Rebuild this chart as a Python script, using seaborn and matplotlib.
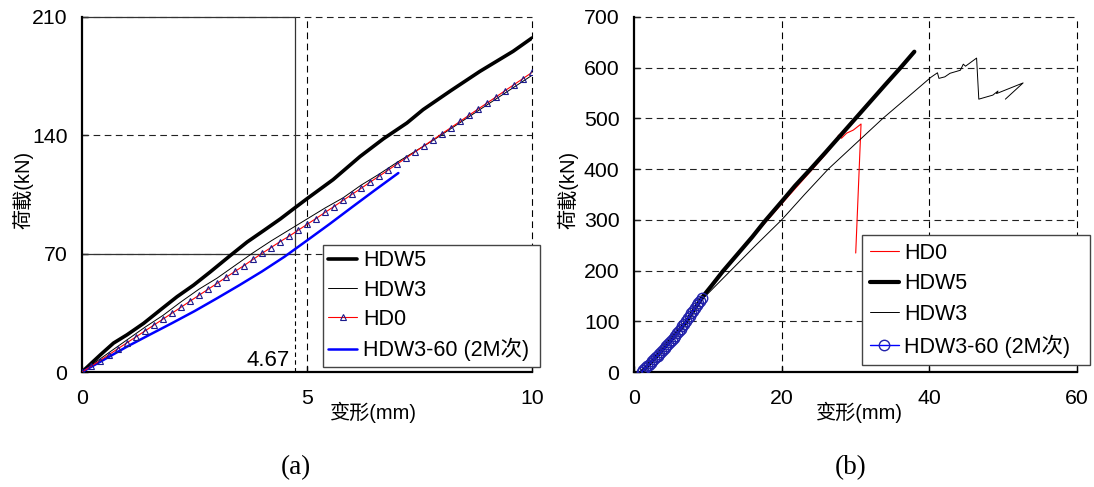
import matplotlib
matplotlib.use("Agg")
import matplotlib.pyplot as plt
import seaborn as sns
import pandas as pd

sns.set_theme(style="white")
plt.rcParams['font.family'] = ['Liberation Sans', 'Noto Sans CJK SC']
plt.rcParams['text.color'] = 'black'
plt.rcParams['axes.labelcolor'] = 'black'
plt.rcParams['xtick.color'] = 'black'
plt.rcParams['ytick.color'] = 'black'

# ---- panel (a): 0-10 mm ----
a_xticks = [0, 5, 10]
a_yticks = [0, 70, 140, 210]

a_hdw5_x = [0, 0.2, 0.41, 0.7, 1.0, 1.37, 1.74, 2.11, 2.48, 2.85, 3.30, 3.67, 4.04,
            4.41, 4.70, 5.0, 5.58, 6.18, 6.70, 7.22, 7.58, 8.2, 8.84, 9.58, 10.0]
a_hdw5_y = [0, 5, 10.2, 17.1, 22, 28.8, 36.7, 44.5, 51.4, 59.2, 69, 76.9, 83.7,
            90.6, 96.5, 102.5, 113.8, 127.5, 138, 147.3, 155.2, 166.5, 177.8, 189.7, 197.6]

a_hdw3_x = [0, 0.3, 0.6, 1.0, 1.4, 1.8, 2.2, 2.6, 3.0, 3.4, 3.8, 4.2, 4.6, 5.0,
            5.4, 5.8, 6.2, 6.6, 7.0, 7.4, 7.8, 8.2, 8.6, 9.0, 9.4, 9.8, 10.0]
a_hdw3_y = [0, 5.8, 11.5, 19.0, 26.5, 33.5, 41.5, 49.0, 55.5, 63.0, 70.5, 77.5, 84.0, 90.5,
            97.0, 103.0, 110.5, 117.0, 124.0, 130.5, 137.0, 144.0, 151.0, 158.0, 165.0, 172.0, 175.5]

a_hd0_x = [0, 0.2, 0.4, 0.6, 0.8, 1.0, 1.2, 1.4, 1.6, 1.8, 2.0, 2.2, 2.4, 2.6, 2.8,
           3.0, 3.2, 3.4, 3.6, 3.8, 4.0, 4.2, 4.4, 4.6, 4.8, 5.0, 5.2, 5.4, 5.6, 5.8,
           6.0, 6.2, 6.4, 6.6, 6.8, 7.0, 7.2, 7.4, 7.6, 7.8, 8.0, 8.2, 8.4, 8.6, 8.8,
           9.0, 9.2, 9.4, 9.6, 9.8, 10.0]
a_hd0_y = [0, 3.3, 6.8, 10.3, 13.8, 17.3, 20.8, 24.3, 27.8, 31.3, 34.8, 38.3, 41.9, 45.4, 48.9,
           52.4, 56.0, 59.5, 63.0, 66.6, 70.2, 73.6, 77.1, 80.3, 83.8, 87.3, 90.8, 94.4, 97.9, 101.5,
           105.1, 108.6, 112.3, 115.8, 119.4, 123.0, 126.6, 130.2, 133.8, 137.4, 141.0, 144.6, 148.2, 151.9, 155.5,
           159.1, 162.7, 166.4, 170.0, 173.6, 177.2]

a_hdw360_x = [0, 0.5, 1.0, 1.5, 2.0, 2.5, 3.0, 3.5, 4.0, 4.5, 5.0, 5.5, 6.0, 6.5, 7.03]
a_hdw360_y = [0, 7.5, 15.0, 22.0, 28.9, 36.0, 43.6, 51.4, 59.5, 68.2, 77.8, 87.5, 97.5, 107.4, 117.7]

ref_x = 4.73      # where the marker line sits in the picture
ref_y = 70
ref_label = "4.67"

# ---- panel (b): 0-60 mm ----
b_xticks = [0, 20, 40, 60]
b_yticks = [0, 100, 200, 300, 400, 500, 600, 700]

b_hd0_x = [1.04, 3.0, 5.0, 6.5, 8.0, 9.2, 12.0, 15.0, 18.0, 21.0, 24.0, 26.0, 27.2,
           27.7, 28.1, 28.8, 29.7, 30.75, 30.03]
b_hd0_y = [0, 32, 66, 90, 120, 145, 196, 247, 298, 348, 397, 430, 452,
           467, 461, 471, 477, 489, 234.6]

b_hdw5_x = [1.04, 3.0, 5.0, 7.0, 9.17, 10.5, 12.0, 14.0, 16.0, 17.7, 20.0, 21.8, 23.9,
            26.0, 28.0, 30.0, 32.0, 34.0, 36.1, 37.97]
b_hdw5_y = [0, 30, 63, 97, 146, 170, 198, 232, 266, 297, 336, 367, 400,
            434, 467, 500, 533, 566, 600, 631.6]

b_hdw3_x = [1.04, 5.0, 9.6, 13.1, 16.5, 20.0, 23.1, 26.3, 30.0, 33.7, 37.0, 40.2,
            41.1, 41.3, 42.1, 42.8, 44.2, 44.6, 44.9, 46.4, 46.7, 48.6, 49.3, 49.1, 52.7, 50.3]
b_hdw3_y = [0, 62, 148.5, 200, 250, 300, 350, 400, 450, 500, 541, 581,
            590, 579, 582, 589, 595, 607, 603, 619, 538, 546, 554, 549, 570, 538]

b_hdw360_x = [1.04, 1.28, 1.52, 1.76, 2.0, 2.24, 2.48, 2.72, 2.96, 3.2, 3.44, 3.68, 3.92,
              4.16, 4.4, 4.64, 4.88, 5.12, 5.36, 5.6, 5.84, 6.08, 6.32, 6.56, 6.8, 7.04,
              7.28, 7.52, 7.76, 8.0, 8.24, 8.48, 8.72, 8.96, 9.17]
b_hdw360_y = [0, 3.6, 7.3, 11.0, 14.6, 18.2, 21.8, 25.4, 29.0, 32.5, 36.0, 39.5, 43.0,
              46.8, 50.6, 54.5, 58.5, 62.6, 66.9, 71.4, 76.0, 80.7, 85.5, 90.4, 95.4, 100.5,
              105.6, 110.8, 116.0, 121.2, 126.3, 131.2, 136.0, 140.7, 145.3]

label_hd0 = "HD0"
label_hdw5 = "HDW5"
label_hdw3 = "HDW3"
label_hdw360 = "HDW3-60 (2M次)"

DASH = (0, (6, 4))


def draw(ax, x, y, label, **kw):
    df = pd.DataFrame({"x": x, "y": y})
    sns.lineplot(data=df, x="x", y="y", ax=ax, sort=False, estimator=None,
                 label=label, **kw)


def style_axes(ax, xticks, yticks, xlab_x, ylab_x):
    ax.set_xlim(xticks[0], xticks[-1])
    ax.set_ylim(yticks[0], yticks[-1])
    ax.set_xticks(xticks)
    ax.set_yticks(yticks)
    ax.tick_params(direction="in", length=4, width=1, labelsize=15.3,
                   bottom=True, left=True)
    ax.tick_params(axis="x", pad=12)
    ax.tick_params(axis="y", pad=10.5)
    for s in ["top", "right"]:
        ax.spines[s].set_visible(False)
    for s in ["left", "bottom"]:
        ax.spines[s].set_color("black")
        ax.spines[s].set_linewidth(1.6)
    for xv in xticks[1:]:
        ax.axvline(xv, color="black", lw=0.8, ls=DASH, clip_on=False, zorder=1)
    for yv in yticks[1:]:
        ax.axhline(yv, color="#222222", lw=0.8, ls=DASH, clip_on=False, zorder=1)
    ax.set_xlabel("")
    ax.set_ylabel("")
    ax.text(xlab_x, -0.115, "变形(mm)", transform=ax.transAxes, ha="center",
            va="center", fontsize=14.5)
    ax.text(ylab_x, 0.513, "荷載(kN)", transform=ax.transAxes, rotation=90,
            ha="center", va="center", fontsize=14.5)


fig = plt.figure(figsize=(10.94, 4.87), dpi=100)
ax1 = fig.add_axes([82 / 1094, 115 / 487, 450 / 1094, 355 / 487])
ax2 = fig.add_axes([634 / 1094, 115 / 487, 443 / 1094, 355 / 487])

# panel (a)
draw(ax1, a_hdw5_x, a_hdw5_y, label_hdw5, color="black", lw=2.6, zorder=3)
draw(ax1, a_hdw3_x, a_hdw3_y, label_hdw3, color="black", lw=0.7, zorder=3)
draw(ax1, a_hd0_x, a_hd0_y, label_hd0, color="red", lw=0.8, marker="^", ms=4,
     mfc="none", mec="#1a1a8c", mew=0.8, zorder=4)
draw(ax1, a_hdw360_x, a_hdw360_y, label_hdw360, color="#0000ff", lw=1.8, zorder=3)
style_axes(ax1, a_xticks, a_yticks, 0.647, -0.131)

y_top = a_yticks[-1]
ax1.plot([0, ref_x, ref_x], [y_top, y_top, ref_y], color="#333333", lw=0.9,
         clip_on=False, zorder=2)
ax1.plot([0, ref_x], [ref_y, ref_y], color="#333333", lw=0.9, zorder=2)
ax1.plot([ref_x, ref_x], [0, ref_y], color="black", lw=0.8, ls=(0, (4, 3)), zorder=2)
ax1.annotate(ref_label, (ref_x, 0), xytext=(-4, 0.5), textcoords="offset points",
             ha="right", va="bottom", fontsize=16)

# panel (b)
draw(ax2, b_hd0_x, b_hd0_y, label_hd0, color="red", lw=0.8, zorder=3)
draw(ax2, b_hdw5_x, b_hdw5_y, label_hdw5, color="black", lw=3.0, zorder=3)
draw(ax2, b_hdw3_x, b_hdw3_y, label_hdw3, color="black", lw=0.7, zorder=3)
draw(ax2, b_hdw360_x, b_hdw360_y, label_hdw360, color="#0000ff", lw=1.0,
     marker="o", ms=7.5, mfc="none", mec="#2222aa", mew=1.0, zorder=4)
style_axes(ax2, b_xticks, b_yticks, 0.508, -0.149)


def place_legend(ax, x0, ytop, w, pad, spacing):
    h, l = ax.get_legend_handles_labels()
    leg = ax.legend(h, l, loc="upper left", bbox_to_anchor=(x0, ytop, w, 0),
                    bbox_transform=fig.transFigure, mode="expand", fontsize=15.5,
                    frameon=True, fancybox=False, framealpha=1, edgecolor="#444444",
                    borderpad=pad, labelspacing=spacing, handlelength=1.35,
                    handletextpad=0.25, borderaxespad=0)
    leg.get_frame().set_linewidth(1.0)
    leg.set_zorder(10)


place_legend(ax1, 323 / 1094, 1 - 245 / 487, 217 / 1094, 0.25, 0.38)
place_legend(ax2, 862 / 1094, 1 - 235 / 487, 228 / 1094, 0.35, 0.45)

fig.text(296 / 1094, 1 - 468 / 487, "(a)", family="Liberation Serif", fontsize=19.5,
         ha="center", va="center")
fig.text(851 / 1094, 1 - 468 / 487, "(b)", family="Liberation Serif", fontsize=19.5,
         ha="center", va="center")

fig.savefig("out.png", dpi=100, facecolor="white")
